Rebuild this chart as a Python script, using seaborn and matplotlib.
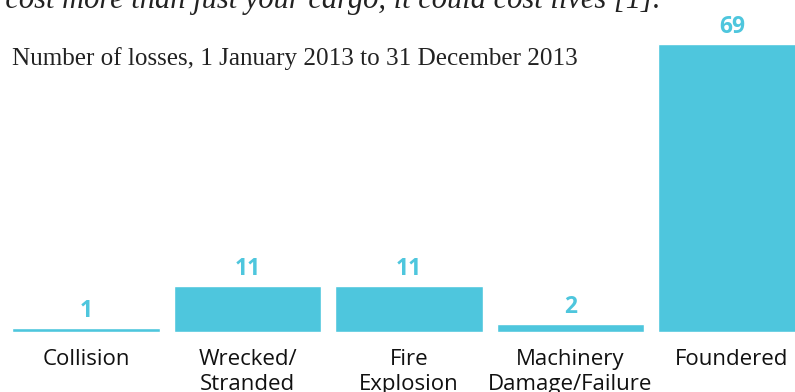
import matplotlib
matplotlib.use("Agg")
import matplotlib.pyplot as plt
import seaborn as sns
import pandas as pd

# Losses by cause, 2013
categories = ["Collision", "Wrecked/\nStranded", "Fire\nExplosion",
              "Machinery\nDamage/Failure", "Foundered"]
losses = [1, 11, 11, 2, 69]

title = "Number of losses, 1 January 2013 to 31 December 2013"
lead_text = "could cost more than just your cargo, it could cost lives [1]."

bar_color = "#4EC6DD"

sns.set_theme(style="white")
plt.rcParams["font.family"] = ["Open Sans", "DejaVu Sans"]

df = pd.DataFrame({"cause": categories, "losses": losses})

fig = plt.figure(figsize=(7.95, 3.92), dpi=100)
fig.patch.set_facecolor("white")
ax = fig.add_axes([0, 60 / 392, 1, 332 / 392])

sns.barplot(data=df, x="cause", y="losses", color=bar_color, width=0.916,
            saturation=1, ax=ax)

ax.set_xlim(-0.5325, 4.39)
ax.set_ylim(0, 79.5)
for s in ax.spines.values():
    s.set_visible(False)
ax.set_yticks([])
ax.set_xlabel("")
ax.set_ylabel("")
ax.tick_params(axis="x", length=0, pad=12.5, labelsize=16, labelcolor="#111111")
for lbl in ax.get_xticklabels():
    lbl.set_linespacing(1.2)

ax.bar_label(ax.containers[0], labels=[str(v) for v in losses], padding=3.5,
             fontsize=16.5, fontweight="bold", color=bar_color)

fig.text(12 / 795, 1 - 65 / 392, title, family="Liberation Serif",
         fontsize=18.1, color="#222222", va="baseline", ha="left")
fig.text(660 / 795, 1 - 8 / 392, lead_text, family="Liberation Serif",
         style="italic", fontsize=22, color="#222222", va="baseline", ha="right")

fig.savefig("out.png", dpi=100, facecolor="white")
